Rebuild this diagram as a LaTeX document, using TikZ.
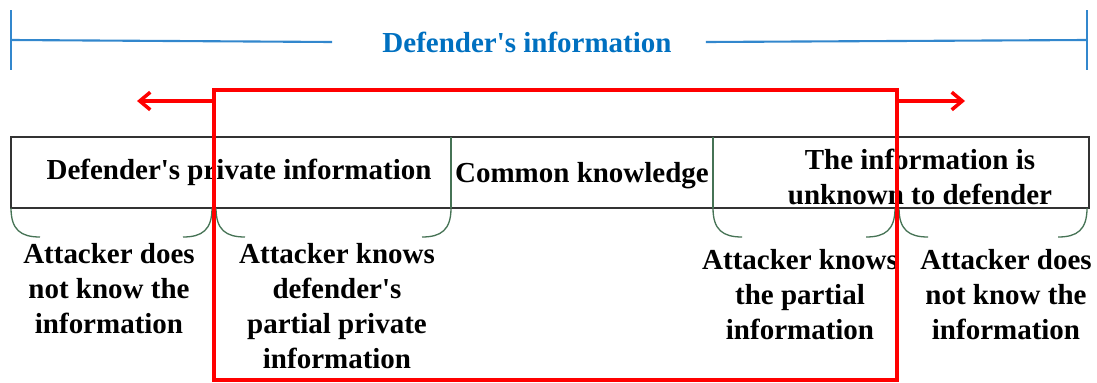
\documentclass[tikz,border=0pt]{standalone}
\usepackage{fontspec}
\setmainfont{Liberation Serif}
\usetikzlibrary{arrows.meta,positioning}
\definecolor{defblue}{RGB}{0,112,192}
\definecolor{dimblue}{RGB}{50,135,205}
\definecolor{bracegreen}{RGB}{70,115,85}
\tikzset{
  lbl/.style={font=\fontsize{16.5}{19.9}\selectfont\bfseries,align=center,inner sep=0pt},
  dimline/.style={draw=dimblue,line width=1.2pt},
  braceline/.style={draw=bracegreen,line width=0.75pt},
  redline/.style={draw=red,line width=2pt},
}
% brace below the box: left x, right x (pixel units)
\newcommand{\infobrace}[2]{%
  \draw[braceline] (#1,208) .. controls (#1,230) and (#1+10,237) .. (#1+29,237);
  \draw[braceline] (#2,208) .. controls (#2,230) and (#2-10,237) .. (#2-29,237);}

\begin{document}
\begin{tikzpicture}[x=0.02cm,y=-0.02cm]
  \useasboundingbox (0,0) rectangle (1097,382);
  % --- dimension line on top ---
  \node[lbl,text=defblue] (title) at (527,42) {Defender\textquotesingle s information};
  \coordinate (dimL) at (11,40);
  \coordinate (dimR) at (1087,40);
  \draw[dimline] (dimL) -- ([xshift=-1cm]title.west);
  \draw[dimline] ([xshift=0.68cm]title.east) -- (dimR);
  \draw[dimline] ([yshift=0.6cm]dimL) -- ([yshift=-0.6cm]dimL);
  \draw[dimline] ([yshift=0.6cm]dimR) -- ([yshift=-0.6cm]dimR);
  % --- information box ---
  \draw[black!80,line width=0.7pt] (11,137) rectangle (1089,208);
  \foreach \dx in {451,713}{%
    \draw[braceline] (\dx,137) -- (\dx,208);}
  \node[lbl] (priv) at (239,172) {Defender\textquotesingle s private information};
  \node[lbl] (common) at (582,176) {Common knowledge};
  \node[lbl] (unknown) at (920,177) {The information is\\unknown to defender};
  % --- braces and attacker labels ---
  \infobrace{11}{212}
  \infobrace{216}{451}
  \infobrace{713}{895}
  \infobrace{899}{1087}
  \node[lbl] (noKnowL) at (109,289) {Attacker does\\not know the\\information};
  \node[lbl] (knowsPriv) at (337,306) {Attacker knows\\defender\textquotesingle s\\partial private\\information};
  \node[lbl] (knowsPart) at (800,295) {Attacker knows\\the partial\\information};
  \node[lbl] (noKnowR) at (1006,295) {Attacker does\\not know the\\information};
  % --- red frame and arrows ---
  \coordinate (frameNW) at (214,90);
  \coordinate (frameSE) at (897,380);
  \coordinate (tipL) at (137,101);
  \coordinate (tipR) at (965,101);
  \draw[redline] (frameNW) rectangle (frameSE);
  \draw[redline,-{Straight Barb[length=6pt,width=10pt]}] (frameNW |- tipL) -- (tipL);
  \draw[redline,-{Straight Barb[length=6pt,width=10pt]}] (frameSE |- tipR) -- (tipR);
\end{tikzpicture}
\end{document}
